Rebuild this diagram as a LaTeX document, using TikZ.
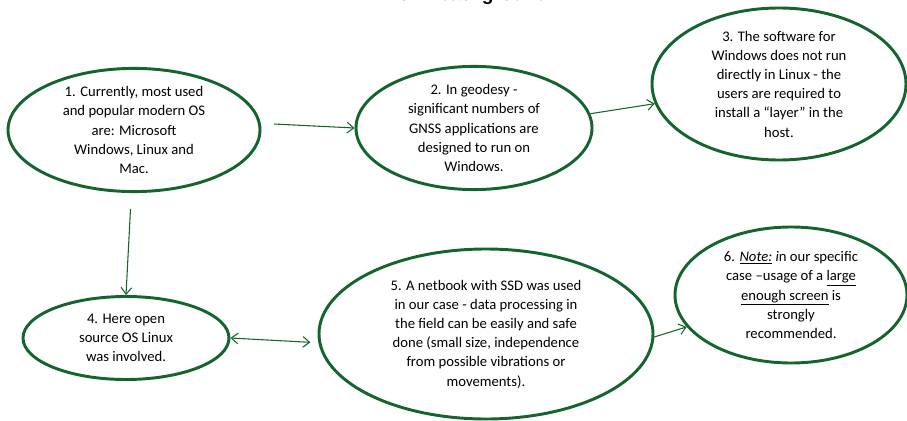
\documentclass[tikz,border=0pt]{standalone}
\usepackage{fontspec}
\setmainfont{Carlito}
\newfontfamily\titlefont{Liberation Sans}
\usetikzlibrary{shapes.geometric,arrows.meta}
\definecolor{r20g100b45}{RGB}{20,100,45}
\begin{document}
\begin{tikzpicture}[x=0.75pt,y=-0.75pt,
  bubble/.style={draw=r20g100b45,line width=2.2pt,ellipse,inner sep=0pt,align=center,
    font=\fontsize{11}{14.4}\selectfont},
  link/.style={draw=r20g100b45,line width=0.8pt,-{Straight Barb[length=5pt,width=8pt]}}]
\useasboundingbox (0,0) rectangle (907,421);

% Title, cut by the top border
\node[anchor=base] (title) at (473.5,1) {\titlefont\fontsize{14.4}{16}\selectfont\bfseries 3.1. background};

% Drawing ellipses
\node[bubble,minimum width=189pt,minimum height=91.5pt] (e1) at (134,130)
  {1. Currently, most used\\and popular modern OS\\are: Microsoft\\Windows, Linux and\\Mac.};
\node[bubble,minimum width=177pt,minimum height=83.25pt] (e2) at (474,128)
  {2. In geodesy -\\significant numbers of\\GNSS applications are\\designed to run on\\Windows.};
\node[bubble,minimum width=190.5pt,minimum height=114pt] (e3) at (779,84)
  {3. The software for\\Windows does not run\\directly in Linux - the\\users are required to\\install a ``layer'' in the\\host.};
\node[bubble,minimum width=154.5pt,minimum height=62.25pt] (e4) at (126,338)
  {4. Here open\\source OS Linux\\was involved.};
\node[bubble,minimum width=250.5pt,minimum height=127.5pt] (e5) at (486,334)
  {5. A netbook with SSD was used\\in our case - data processing in\\the field can be easily and safe\\done (small size, independence\\from possible vibrations or\\movements).};
\node[bubble,minimum width=174pt,minimum height=102pt] (e6) at (791,295)
  {6. \underline{\textit{Note:}}\textit{ i}n our specific\\case --usage of a \underline{large}\\\underline{enough screen} is\\strongly\\recommended.};

% Drawing arrows
\draw[link,shorten <=10pt] (e1.3) -- (e2.west);
\draw[link] (e2.7) -- (e3.189);
\draw[link,shorten <=12pt] ([xshift=-2pt]e1.south) -- (e4.north);
\draw[link,{Straight Barb[length=5pt,width=8pt]}-{Straight Barb[length=5pt,width=8pt]},shorten >=6pt] (e4.east) -- (e5.183);
\draw[link] (e5.359) -- (e6.197);
\end{tikzpicture}
\end{document}
